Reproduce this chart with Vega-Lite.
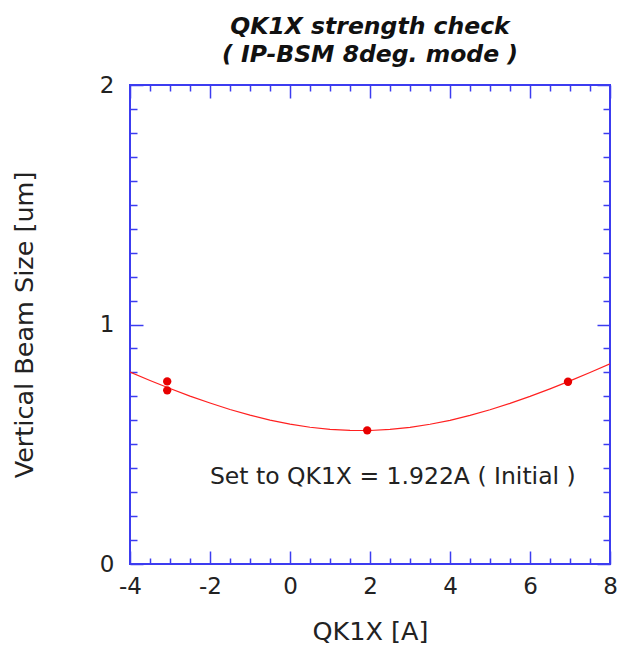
{
  "$schema": "https://vega.github.io/schema/vega-lite/v6.json",
  "width": 480,
  "height": 479,
  "autosize": "none",
  "padding": {"left": 130, "top": 85, "right": 8, "bottom": 86},
  "background": "white",
  "config": {
    "view": {"stroke": "#3c3cf0", "strokeWidth": 2},
    "font": "DejaVu Sans",
    "axis": {"grid": false, "domain": false, "tickColor": "#3c3cf0", "tickWidth": 1.5, "labelColor": "#222", "titleColor": "#222", "labelFont": "DejaVu Sans", "titleFont": "DejaVu Sans", "labelFontSize": 23, "titleFontSize": 25.5, "titleFontWeight": "normal", "labelFlush": false}
  },
  "title": {
    "text": ["QK1X strength check", "( IP-BSM 8deg. mode )"],
    "font": "DejaVu Sans",
    "fontSize": 23.5,
    "fontStyle": "italic",
    "fontWeight": "bold",
    "lineHeight": 28,
    "anchor": "middle",
    "offset": 8,
    "color": "#111"
  },
  "datasets": {
    "curve": [
      {"x": -4, "y": 0.801}, {"x": -3.5, "y": 0.766}, {"x": -3, "y": 0.7325}, {"x": -2.5, "y": 0.701},
      {"x": -2, "y": 0.672}, {"x": -1.5, "y": 0.645}, {"x": -1, "y": 0.6215}, {"x": -0.5, "y": 0.601},
      {"x": 0, "y": 0.584}, {"x": 0.5, "y": 0.571}, {"x": 1, "y": 0.562}, {"x": 1.5, "y": 0.5576},
      {"x": 2, "y": 0.5575}, {"x": 2.5, "y": 0.5618}, {"x": 3, "y": 0.5705}, {"x": 3.5, "y": 0.5834},
      {"x": 4, "y": 0.6}, {"x": 4.5, "y": 0.6206}, {"x": 5, "y": 0.644}, {"x": 5.5, "y": 0.6707},
      {"x": 6, "y": 0.6997}, {"x": 6.5, "y": 0.731}, {"x": 7, "y": 0.7644}, {"x": 7.5, "y": 0.7994},
      {"x": 8, "y": 0.836}
    ],
    "points": [
      {"x": -3.07, "y": 0.7625}, {"x": -3.07, "y": 0.725}, {"x": 1.93, "y": 0.558}, {"x": 6.95, "y": 0.761}
    ],
    "note": [
      {"x": 2.57, "y": 0.362, "label": "Set to QK1X = 1.922A ( Initial )"}
    ]
  },
  "resolve": {"axis": {"x": "independent", "y": "independent"}},
  "layer": [
    {
      "data": {"name": "curve"},
      "mark": {"type": "line", "color": "#ff2020", "strokeWidth": 1.2, "clip": true},
      "encoding": {
        "x": {"field": "x", "type": "quantitative", "scale": {"domain": [-4, 8], "nice": false, "zero": false},
          "axis": {"orient": "bottom", "values": [-4, -2, 0, 2, 4, 6, 8], "tickSize": -13, "labelPadding": 24, "labelExpr": "datum.value < 0 ? '-' + abs(datum.value) : '' + datum.value", "title": "QK1X [A]", "titlePadding": 21}},
        "y": {"field": "y", "type": "quantitative", "scale": {"domain": [0, 2], "nice": false, "zero": false},
          "axis": {"orient": "left", "values": [0, 1, 2], "tickSize": -13, "labelPadding": 29, "labelExpr": "'' + datum.value", "title": "Vertical Beam Size [um]", "titlePadding": 62}}
      }
    },
    {
      "data": {"name": "points"},
      "mark": {"type": "point", "filled": true, "color": "#e80000", "size": 70, "opacity": 1},
      "encoding": {
        "x": {"field": "x", "type": "quantitative", "scale": {"domain": [-4, 8], "nice": false, "zero": false},
          "axis": {"orient": "bottom", "values": [-3.5, -3, -2.5, -1.5, -1, -0.5, 0.5, 1, 1.5, 2.5, 3, 3.5, 4.5, 5, 5.5, 6.5, 7, 7.5], "tickSize": -6, "labels": false, "title": null}},
        "y": {"field": "y", "type": "quantitative", "scale": {"domain": [0, 2], "nice": false, "zero": false},
          "axis": {"orient": "left", "values": [0.1, 0.2, 0.3, 0.4, 0.5, 0.6, 0.7, 0.8, 0.9, 1.1, 1.2, 1.3, 1.4, 1.5, 1.6, 1.7, 1.8, 1.9], "tickSize": -7, "labels": false, "title": null}}
      }
    },
    {
      "data": {"name": "note"},
      "mark": {"type": "text", "font": "DejaVu Sans", "fontSize": 23.5, "color": "#222", "align": "center", "baseline": "middle"},
      "encoding": {
        "text": {"field": "label"},
        "x": {"field": "x", "type": "quantitative", "scale": {"domain": [-4, 8], "nice": false, "zero": false},
          "axis": {"orient": "top", "values": [-4, -2, 0, 2, 4, 6, 8], "tickSize": -13, "labels": false, "title": null}},
        "y": {"field": "y", "type": "quantitative", "scale": {"domain": [0, 2], "nice": false, "zero": false},
          "axis": {"orient": "right", "values": [0, 1, 2], "tickSize": -13, "labels": false, "title": null}}
      }
    },
    {
      "data": {"name": "points"},
      "mark": {"type": "point", "opacity": 0},
      "encoding": {
        "x": {"field": "x", "type": "quantitative", "scale": {"domain": [-4, 8], "nice": false, "zero": false},
          "axis": {"orient": "top", "values": [-3.5, -3, -2.5, -1.5, -1, -0.5, 0.5, 1, 1.5, 2.5, 3, 3.5, 4.5, 5, 5.5, 6.5, 7, 7.5], "tickSize": -6, "labels": false, "title": null}},
        "y": {"field": "y", "type": "quantitative", "scale": {"domain": [0, 2], "nice": false, "zero": false},
          "axis": {"orient": "right", "values": [0.1, 0.2, 0.3, 0.4, 0.5, 0.6, 0.7, 0.8, 0.9, 1.1, 1.2, 1.3, 1.4, 1.5, 1.6, 1.7, 1.8, 1.9], "tickSize": -7, "labels": false, "title": null}}
      }
    }
  ]
}
